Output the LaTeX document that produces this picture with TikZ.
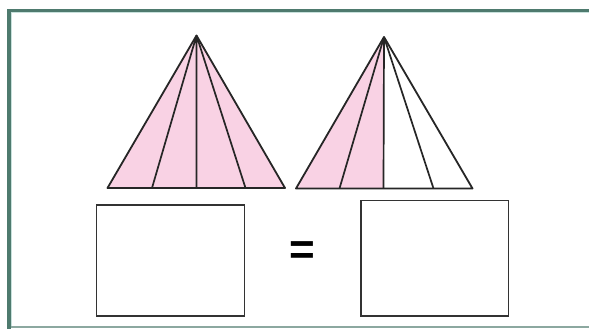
\documentclass[tikz,border=0pt]{standalone}
\usepackage{fontspec}
\setmainfont{Liberation Sans}
\definecolor{framedark}{RGB}{78,122,110}
\definecolor{framelight}{RGB}{200,225,220}
\definecolor{framebot}{RGB}{140,168,160}
\definecolor{pinkfill}{RGB}{249,210,228}
\begin{document}
\begin{tikzpicture}[x=1pt,y=-1pt,
  tri/.style={draw=black!85,line width=1.8pt,line join=round},
  part/.style={draw=black!85,line width=1.7pt},
  answerbox/.style={draw=black!80,line width=1.4pt,fill=white}]
\useasboundingbox (0,0) rectangle (589,329);
\fill[white] (0,0) rectangle (589,329);
% frame
\fill[framedark] (7,9) rectangle (589,12);
\fill[framedark] (7,9) rectangle (11,329);
\fill[framelight] (11,12) rectangle (589,13);
\fill[framelight] (11,12) rectangle (12,326);
\fill[framebot] (11,326) rectangle (589,328);
% left triangle
\coordinate (A) at (196.5,35.5);
\coordinate (L1) at (107.5,188);
\coordinate (L2) at (152,188);
\coordinate (L3) at (196.5,188);
\coordinate (L4) at (245.5,188);
\coordinate (L5) at (285,188);
\fill[pinkfill] (A) -- (L1) -- (L5) -- cycle;
\draw[part] (A) -- (L2) (A) -- (L3) (A) -- (L4);
\draw[tri] (A) -- (L1) -- (L5) -- cycle;
% right triangle
\coordinate (B) at (384,37);
\coordinate (R1) at (296,188.5);
\coordinate (R2) at (339.5,188.5);
\coordinate (R3) at (383.5,188.5);
\coordinate (R4) at (433.5,188.5);
\coordinate (R5) at (472.5,188.5);
\fill[pinkfill] (B) -- (R1) -- (R3) -- cycle;
\draw[part] (B) -- (R2) (B) -- (R3) (B) -- (R4);
\draw[tri] (B) -- (R1) -- (R5) -- cycle;
% boxes
\node[answerbox,minimum width=147.5pt,minimum height=111pt,inner sep=0pt] (box1) at (170.5,260.5) {};
\node[answerbox,minimum width=147.3pt,minimum height=115.3pt,inner sep=0pt] (box2) at (434.7,258.4) {};
\node[font=\fontsize{44}{44}\selectfont\bfseries,inner sep=0pt] (eq) at (302.7,253) {=};
\end{tikzpicture}
\end{document}
